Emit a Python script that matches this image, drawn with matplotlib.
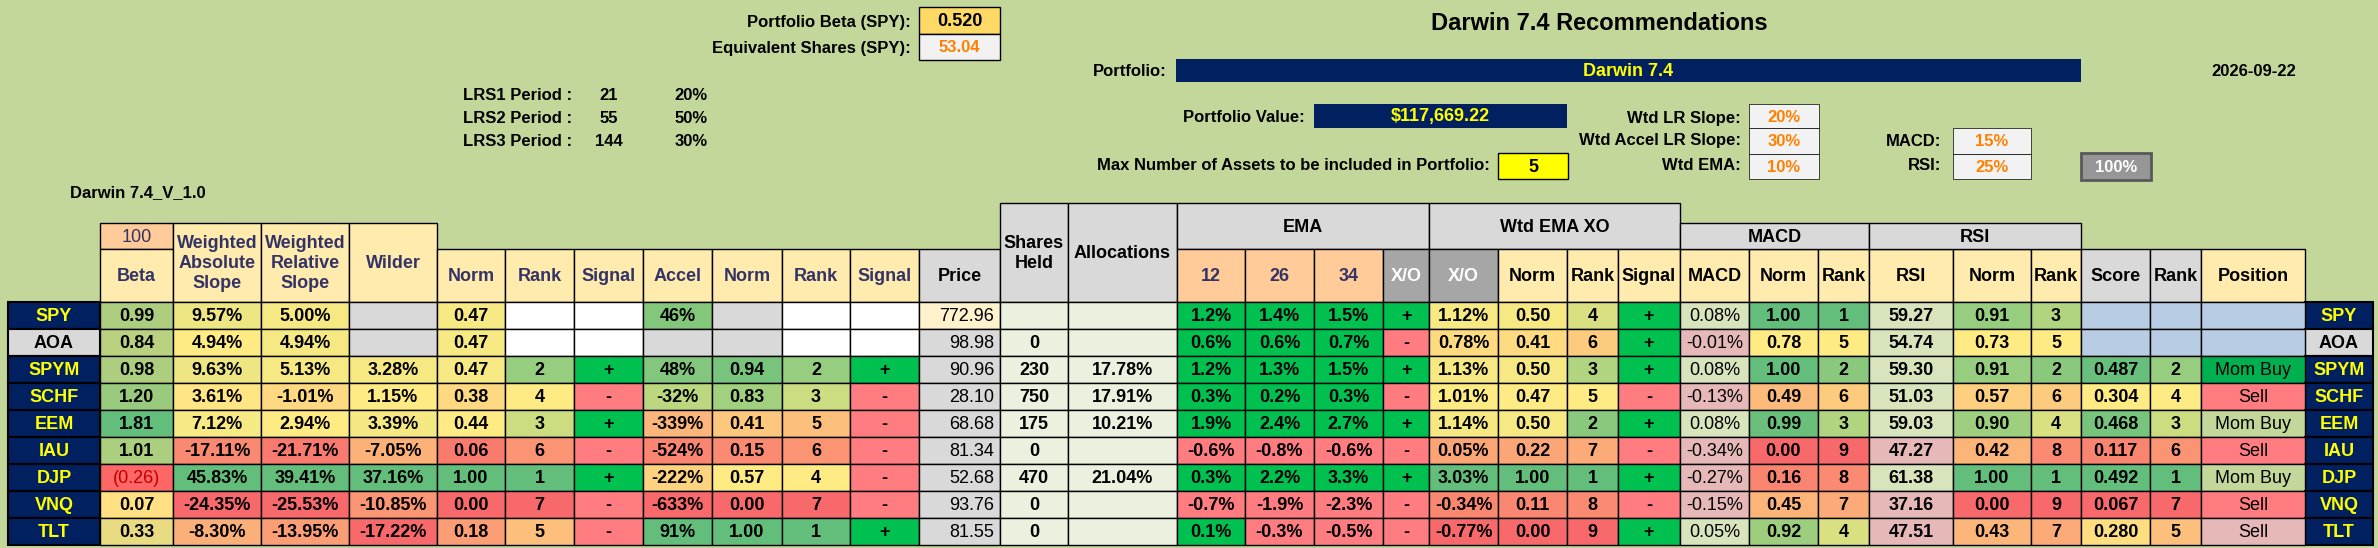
import matplotlib
matplotlib.use("Agg")
import matplotlib.pyplot as plt
from matplotlib.patches import Rectangle
import numpy as np

FONT = ['Liberation Sans Narrow', 'Liberation Sans', 'DejaVu Sans']

tickers = ['SPY','AOA','SPYM','SCHF','EEM','IAU','DJP','VNQ','TLT']
beta = [0.99,0.84,0.98,1.20,1.81,1.01,-0.26,0.07,0.33]
abs_slope = [9.57,4.94,9.63,3.61,7.12,-17.11,45.83,-24.35,-8.30]
rel_slope = [5.00,4.94,5.13,-1.01,2.94,-21.71,39.41,-25.53,-13.95]
wilder = [None,None,3.28,1.15,3.39,-7.05,37.16,-10.85,-17.22]
norm1 = [0.47,0.47,0.47,0.38,0.44,0.06,1.00,0.00,0.18]
rank1 = [None,None,2,4,3,6,1,7,5]
sig1 = [None,None,'+','-','+','-','+','-','-']
accel = [46,None,48,-32,-339,-524,-222,-633,91]
norm2 = [None,None,0.94,0.83,0.41,0.15,0.57,0.00,1.00]
rank2 = [None,None,2,3,5,6,4,7,1]
sig2 = [None,None,'+','-','-','-','-','-','+']
price = [772.96,98.98,90.96,28.10,68.68,81.34,52.68,93.76,81.55]
shares = [None,0,230,750,175,0,470,0,0]
alloc = [None,None,17.78,17.91,10.21,None,21.04,None,None]
ema12 = [1.2,0.6,1.2,0.3,1.9,-0.6,0.3,-0.7,0.1]
ema26 = [1.4,0.6,1.3,0.2,2.4,-0.8,2.2,-1.9,-0.3]
ema34 = [1.5,0.7,1.5,0.3,2.7,-0.6,3.3,-2.3,-0.5]
ema_xo = ['+','-','+','-','+','-','+','-','-']
wxo = [1.12,0.78,1.13,1.01,1.14,0.05,3.03,-0.34,-0.77]
wxo_norm = [0.50,0.41,0.50,0.47,0.50,0.22,1.00,0.11,0.00]
wxo_rank = [4,6,3,5,2,7,1,8,9]
wxo_sig = ['+','+','+','-','+','-','+','-','+']
macd = [0.08,-0.01,0.08,-0.13,0.08,-0.34,-0.27,-0.15,0.05]
macd_norm = [1.00,0.78,1.00,0.49,0.99,0.00,0.16,0.45,0.92]
macd_rank = [1,5,2,6,3,9,8,7,4]
rsi = [59.27,54.74,59.30,51.03,59.03,47.27,61.38,37.16,47.51]
rsi_norm = [0.91,0.73,0.91,0.57,0.90,0.42,1.00,0.00,0.43]
rsi_rank = [3,5,2,6,4,8,1,9,7]
score = [None,None,0.487,0.304,0.468,0.117,0.492,0.067,0.280]
score_rank = [None,None,2,4,3,6,1,7,5]
position = [None,None,'Mom Buy','Sell','Mom Buy','Sell','Mom Buy','Sell','Sell']
position_colors = [None,None,'#00B050','#FF7C80','#C4D79B','#FF7C80','#C4D79B','#FF7C80','#E6B8B7']

BG = '#C4D79B'; NAVY = '#002060'; HDR = '#FFEBAD'; GRAY = '#D9D9D9'
DGRAY = '#A6A6A6'; ORNG = '#FFCC99'; BGREEN = '#00C050'; RED = '#FF7C80'
LBLUE = '#B8CCE4'; HBLUE = '#333366'

fig = plt.figure(figsize=(23.78, 5.48), dpi=100)
ax = fig.add_axes([0, 0, 1, 1])
ax.set_xlim(0, 2378); ax.set_ylim(548, 0); ax.axis('off')
fig.patch.set_facecolor(BG)

def txt(x, y, s, ha='center', size=13, color='black', weight='bold', **kw):
    ax.text(x, y, s, ha=ha, va='center', fontsize=size, color=color,
            fontweight=weight, family=FONT, **kw)

def cell(x0, x1, y0, y1, fc, s=None, color='black', ha='center', size=13, weight='bold', lw=1.0):
    ax.add_patch(Rectangle((x0, y0), x1 - x0, y1 - y0, facecolor=fc, edgecolor='black', lw=lw))
    if s is not None:
        if ha == 'right':
            txt(x1 - 6, (y0 + y1) / 2 + 1, s, ha='right', size=size, color=color, weight=weight)
        else:
            txt((x0 + x1) / 2, (y0 + y1) / 2 + 1, s, size=size, color=color, weight=weight)

def lerp(c1, c2, t):
    c1 = np.array(matplotlib.colors.to_rgb(c1)); c2 = np.array(matplotlib.colors.to_rgb(c2))
    return tuple(c1 + (c2 - c1) * t)

R3, Y3, G3 = '#F8696B', '#FFEB84', '#63BE7B'
def scale3(vals, reverse=False):
    v = [x for x in vals if x is not None]
    lo, hi, mid = min(v), max(v), np.percentile(v, 50)
    out = []
    for x in vals:
        if x is None:
            out.append(None); continue
        if x <= mid:
            t = 0 if mid == lo else (x - lo) / (mid - lo)
            c = lerp(R3, Y3, t)
        else:
            t = (x - mid) / (hi - mid)
            c = lerp(Y3, G3, t)
        out.append(c)
    if reverse:
        out2 = []
        for x in vals:
            if x is None:
                out2.append(None); continue
            xx = -x
            vv = [-a for a in v]
            lo2, hi2, mid2 = min(vv), max(vv), np.percentile(vv, 50)
            if xx <= mid2:
                out2.append(lerp(R3, Y3, 0 if mid2 == lo2 else (xx - lo2) / (mid2 - lo2)))
            else:
                out2.append(lerp(Y3, G3, (xx - mid2) / (hi2 - mid2)))
        return out2
    return out

# ---------------- top area ----------------
txt(911, 23, 'Portfolio Beta (SPY):', ha='right', size=12)
cell(919, 1000, 7, 34, '#FFD966', '0.520', size=13)
txt(911, 49, 'Equivalent Shares (SPY):', ha='right', size=12)
cell(919, 1000, 34, 60, '#F2F2F2', '53.04', color='#FF8000', size=12)
for i, (lab, per, w) in enumerate([('LRS1 Period :', '21', '20%'), ('LRS2 Period :', '55', '50%'), ('LRS3 Period :', '144', '30%')]):
    y = 95 + i * 23.5
    txt(463, y, lab, ha='left', size=12)
    txt(609, y, per, size=12)
    txt(691, y, w, size=12)
txt(70, 193, 'Darwin 7.4_V_1.0', ha='left', size=12)

txt(1599, 23, 'Darwin 7.4 Recommendations', size=17)
txt(1167, 72, 'Portfolio:', ha='right', size=12)
ax.add_patch(Rectangle((1176, 59), 905, 23, facecolor=NAVY, edgecolor='none'))
txt(1628, 71, 'Darwin 7.4', color='yellow', size=13)
txt(2254, 72, '2026-09-22', size=12)
txt(1305, 118, 'Portfolio Value:', ha='right', size=12)
ax.add_patch(Rectangle((1314, 104), 253, 24, facecolor=NAVY, edgecolor='none'))
txt(1440, 117, '$117,669.22', color='yellow', size=13)
txt(1741, 118, 'Wtd LR Slope:', ha='right', size=12)
cell(1749, 1819, 104, 128, '#F2F2F2', '20%', color='#FF8000', size=12, lw=0.5)
txt(1741, 141, 'Wtd Accel LR Slope:', ha='right', size=12)
cell(1749, 1819, 128, 154, '#F2F2F2', '30%', color='#FF8000', size=12, lw=0.5)
txt(1941, 141, 'MACD:', ha='right', size=12)
cell(1953, 2031, 128, 154, '#F2F2F2', '15%', color='#FF8000', size=12, lw=0.5)
txt(1490, 166, 'Max Number of Assets to be included in Portfolio:', ha='right', size=12)
cell(1498, 1568, 153, 179, '#FFFF00', '5', size=13)
txt(1741, 166, 'Wtd EMA:', ha='right', size=12)
cell(1749, 1819, 154, 179, '#F2F2F2', '10%', color='#FF8000', size=12, lw=0.5)
txt(1941, 166, 'RSI:', ha='right', size=12)
cell(1953, 2031, 154, 179, '#F2F2F2', '25%', color='#FF8000', size=12, lw=0.5)
ax.add_patch(Rectangle((2081, 153), 70, 27, facecolor='#969696', edgecolor='#595959', lw=2))
txt(2116, 167, '100%', color='white', size=12)

# ---------------- table headers ----------------
T0, T1, H0, H1 = 203, 223, 249, 302
cell(100, 173, T1, H0, ORNG, '100', color=HBLUE, weight='normal')
cell(100, 173, H0, H1, HDR, 'Beta', color=HBLUE)
cell(173, 261, T1, H1, HDR, 'Weighted\nAbsolute\nSlope', color=HBLUE)
cell(261, 349, T1, H1, HDR, 'Weighted\nRelative\nSlope', color=HBLUE)
cell(349, 437, T1, H1, HDR, 'Wilder', color=HBLUE)
for x0, x1, s in [(437,505,'Norm'),(505,574,'Rank'),(574,643,'Signal'),(643,712,'Accel'),(712,782,'Norm'),(782,850,'Rank'),(850,919,'Signal')]:
    cell(x0, x1, H0, H1, HDR, s, color=HBLUE)
cell(919, 1000, H0, H1, GRAY, 'Price')
cell(1000, 1068, T0, H1, GRAY, 'Shares\nHeld')
cell(1068, 1177, T0, H1, GRAY, 'Allocations')
cell(1177, 1429, T0, H0, GRAY, 'EMA')
for x0, x1, s in [(1177,1245,'12'),(1245,1314,'26'),(1314,1383,'34')]:
    cell(x0, x1, H0, H1, ORNG, s, color=HBLUE)
cell(1383, 1429, H0, H1, DGRAY, 'X/O', color='white')
cell(1429, 1680, T0, H0, GRAY, 'Wtd EMA XO')
cell(1429, 1498, H0, H1, DGRAY, 'X/O', color='white')
for x0, x1, s in [(1498,1567,'Norm'),(1567,1618,'Rank'),(1618,1680,'Signal'),(1680,1749,'MACD'),(1749,1818,'Norm'),(1818,1869,'Rank'),(1869,1953,'RSI'),(1953,2031,'Norm'),(2031,2081,'Rank')]:
    cell(x0, x1, H0, H1, HDR, s)
cell(1680, 1869, T1, H0, GRAY, 'MACD')
cell(1869, 2081, T1, H0, GRAY, 'RSI')
cell(2081, 2150, H0, H1, GRAY, 'Score')
cell(2150, 2201, H0, H1, GRAY, 'Rank')
cell(2201, 2305, H0, H1, HDR, 'Position')

# ---------------- data rows ----------------
RH = 27
beta_c = []
bv = [b for b in beta if b >= 0]
for b in beta:
    if b < 0:
        beta_c.append('#FF6666')
    else:
        beta_c.append(lerp('#FFE083', '#63BE7B', (b - min(bv)) / (max(bv) - min(bv))))
abs_c = scale3(abs_slope); rel_c = scale3(rel_slope); wil_c = scale3(wilder)
n1_c = scale3(norm1); r1_c = scale3(rank1, reverse=True)
acc_c = scale3(accel); n2_c = scale3(norm2); r2_c = scale3(rank2, reverse=True)
xo_c = scale3(wxo); xon_c = scale3(wxo_norm); xor_c = scale3(wxo_rank, reverse=True)
mn_c = scale3(macd_norm); mr_c = scale3(macd_rank, reverse=True)
rn_c = scale3(rsi_norm); rr_c = scale3(rsi_rank, reverse=True)
sc_c = scale3(score); scr_c = scale3(score_rank, reverse=True)

def sigcell(x0, x1, y0, y1, s):
    if s is None:
        cell(x0, x1, y0, y1, 'white')
    else:
        cell(x0, x1, y0, y1, BGREEN if s == '+' else RED, s, size=13)

for i, tk in enumerate(tickers):
    y0 = 302 + i * RH; y1 = y0 + RH
    navy = tk != 'AOA'
    for x0, x1 in [(8, 100), (2305, 2373)]:
        cell(x0, x1, y0, y1, NAVY if navy else GRAY, tk, color='yellow' if navy else 'black', lw=1.5)
    if beta[i] < 0:
        cell(100, 173, y0, y1, beta_c[i], f'({abs(beta[i]):.2f})', color='#C00000', weight='normal')
    else:
        cell(100, 173, y0, y1, beta_c[i], f'{beta[i]:.2f}')
    cell(173, 261, y0, y1, abs_c[i], f'{abs_slope[i]:.2f}%')
    cell(261, 349, y0, y1, rel_c[i], f'{rel_slope[i]:.2f}%')
    cell(349, 437, y0, y1, wil_c[i] or GRAY, None if wilder[i] is None else f'{wilder[i]:.2f}%')
    cell(437, 505, y0, y1, n1_c[i], f'{norm1[i]:.2f}')
    cell(505, 574, y0, y1, r1_c[i] or 'white', None if rank1[i] is None else str(rank1[i]))
    sigcell(574, 643, y0, y1, sig1[i])
    cell(643, 712, y0, y1, acc_c[i] or GRAY, None if accel[i] is None else f'{accel[i]}%')
    cell(712, 782, y0, y1, n2_c[i] or GRAY, None if norm2[i] is None else f'{norm2[i]:.2f}')
    cell(782, 850, y0, y1, r2_c[i] or 'white', None if rank2[i] is None else str(rank2[i]))
    sigcell(850, 919, y0, y1, sig2[i])
    cell(919, 1000, y0, y1, '#FFF2CC' if i == 0 else GRAY, f'{price[i]:.2f}', ha='right', weight='normal')
    cell(1000, 1068, y0, y1, '#EBF1DE', None if shares[i] is None else str(shares[i]))
    cell(1068, 1177, y0, y1, '#EBF1DE', None if alloc[i] is None else f'{alloc[i]:.2f}%')
    for (x0, x1), v in zip([(1177,1245),(1245,1314),(1314,1383)], [ema12[i], ema26[i], ema34[i]]):
        cell(x0, x1, y0, y1, BGREEN if v > 0 else RED, f'{v:.1f}%')
    sigcell(1383, 1429, y0, y1, ema_xo[i])
    cell(1429, 1498, y0, y1, xo_c[i], f'{wxo[i]:.2f}%')
    cell(1498, 1567, y0, y1, xon_c[i], f'{wxo_norm[i]:.2f}')
    cell(1567, 1618, y0, y1, xor_c[i], str(wxo_rank[i]))
    sigcell(1618, 1680, y0, y1, wxo_sig[i])
    cell(1680, 1749, y0, y1, '#D8E4BC' if macd[i] > 0 else '#E6B8B7', f'{macd[i]:.2f}%', weight='normal')
    cell(1749, 1818, y0, y1, mn_c[i], f'{macd_norm[i]:.2f}')
    cell(1818, 1869, y0, y1, mr_c[i], str(macd_rank[i]))
    cell(1869, 1953, y0, y1, '#D8E4BC' if rsi[i] > 50 else '#E6B8B7', f'{rsi[i]:.2f}')
    cell(1953, 2031, y0, y1, rn_c[i], f'{rsi_norm[i]:.2f}')
    cell(2031, 2081, y0, y1, rr_c[i], str(rsi_rank[i]))
    if score[i] is None:
        for x0, x1 in [(2081,2150),(2150,2201),(2201,2305)]:
            cell(x0, x1, y0, y1, LBLUE)
    else:
        cell(2081, 2150, y0, y1, sc_c[i], f'{score[i]:.3f}')
        cell(2150, 2201, y0, y1, scr_c[i], str(score_rank[i]))
        cell(2201, 2305, y0, y1, position_colors[i], position[i], weight='normal')

fig.savefig('out.png', dpi=100, facecolor=BG)
